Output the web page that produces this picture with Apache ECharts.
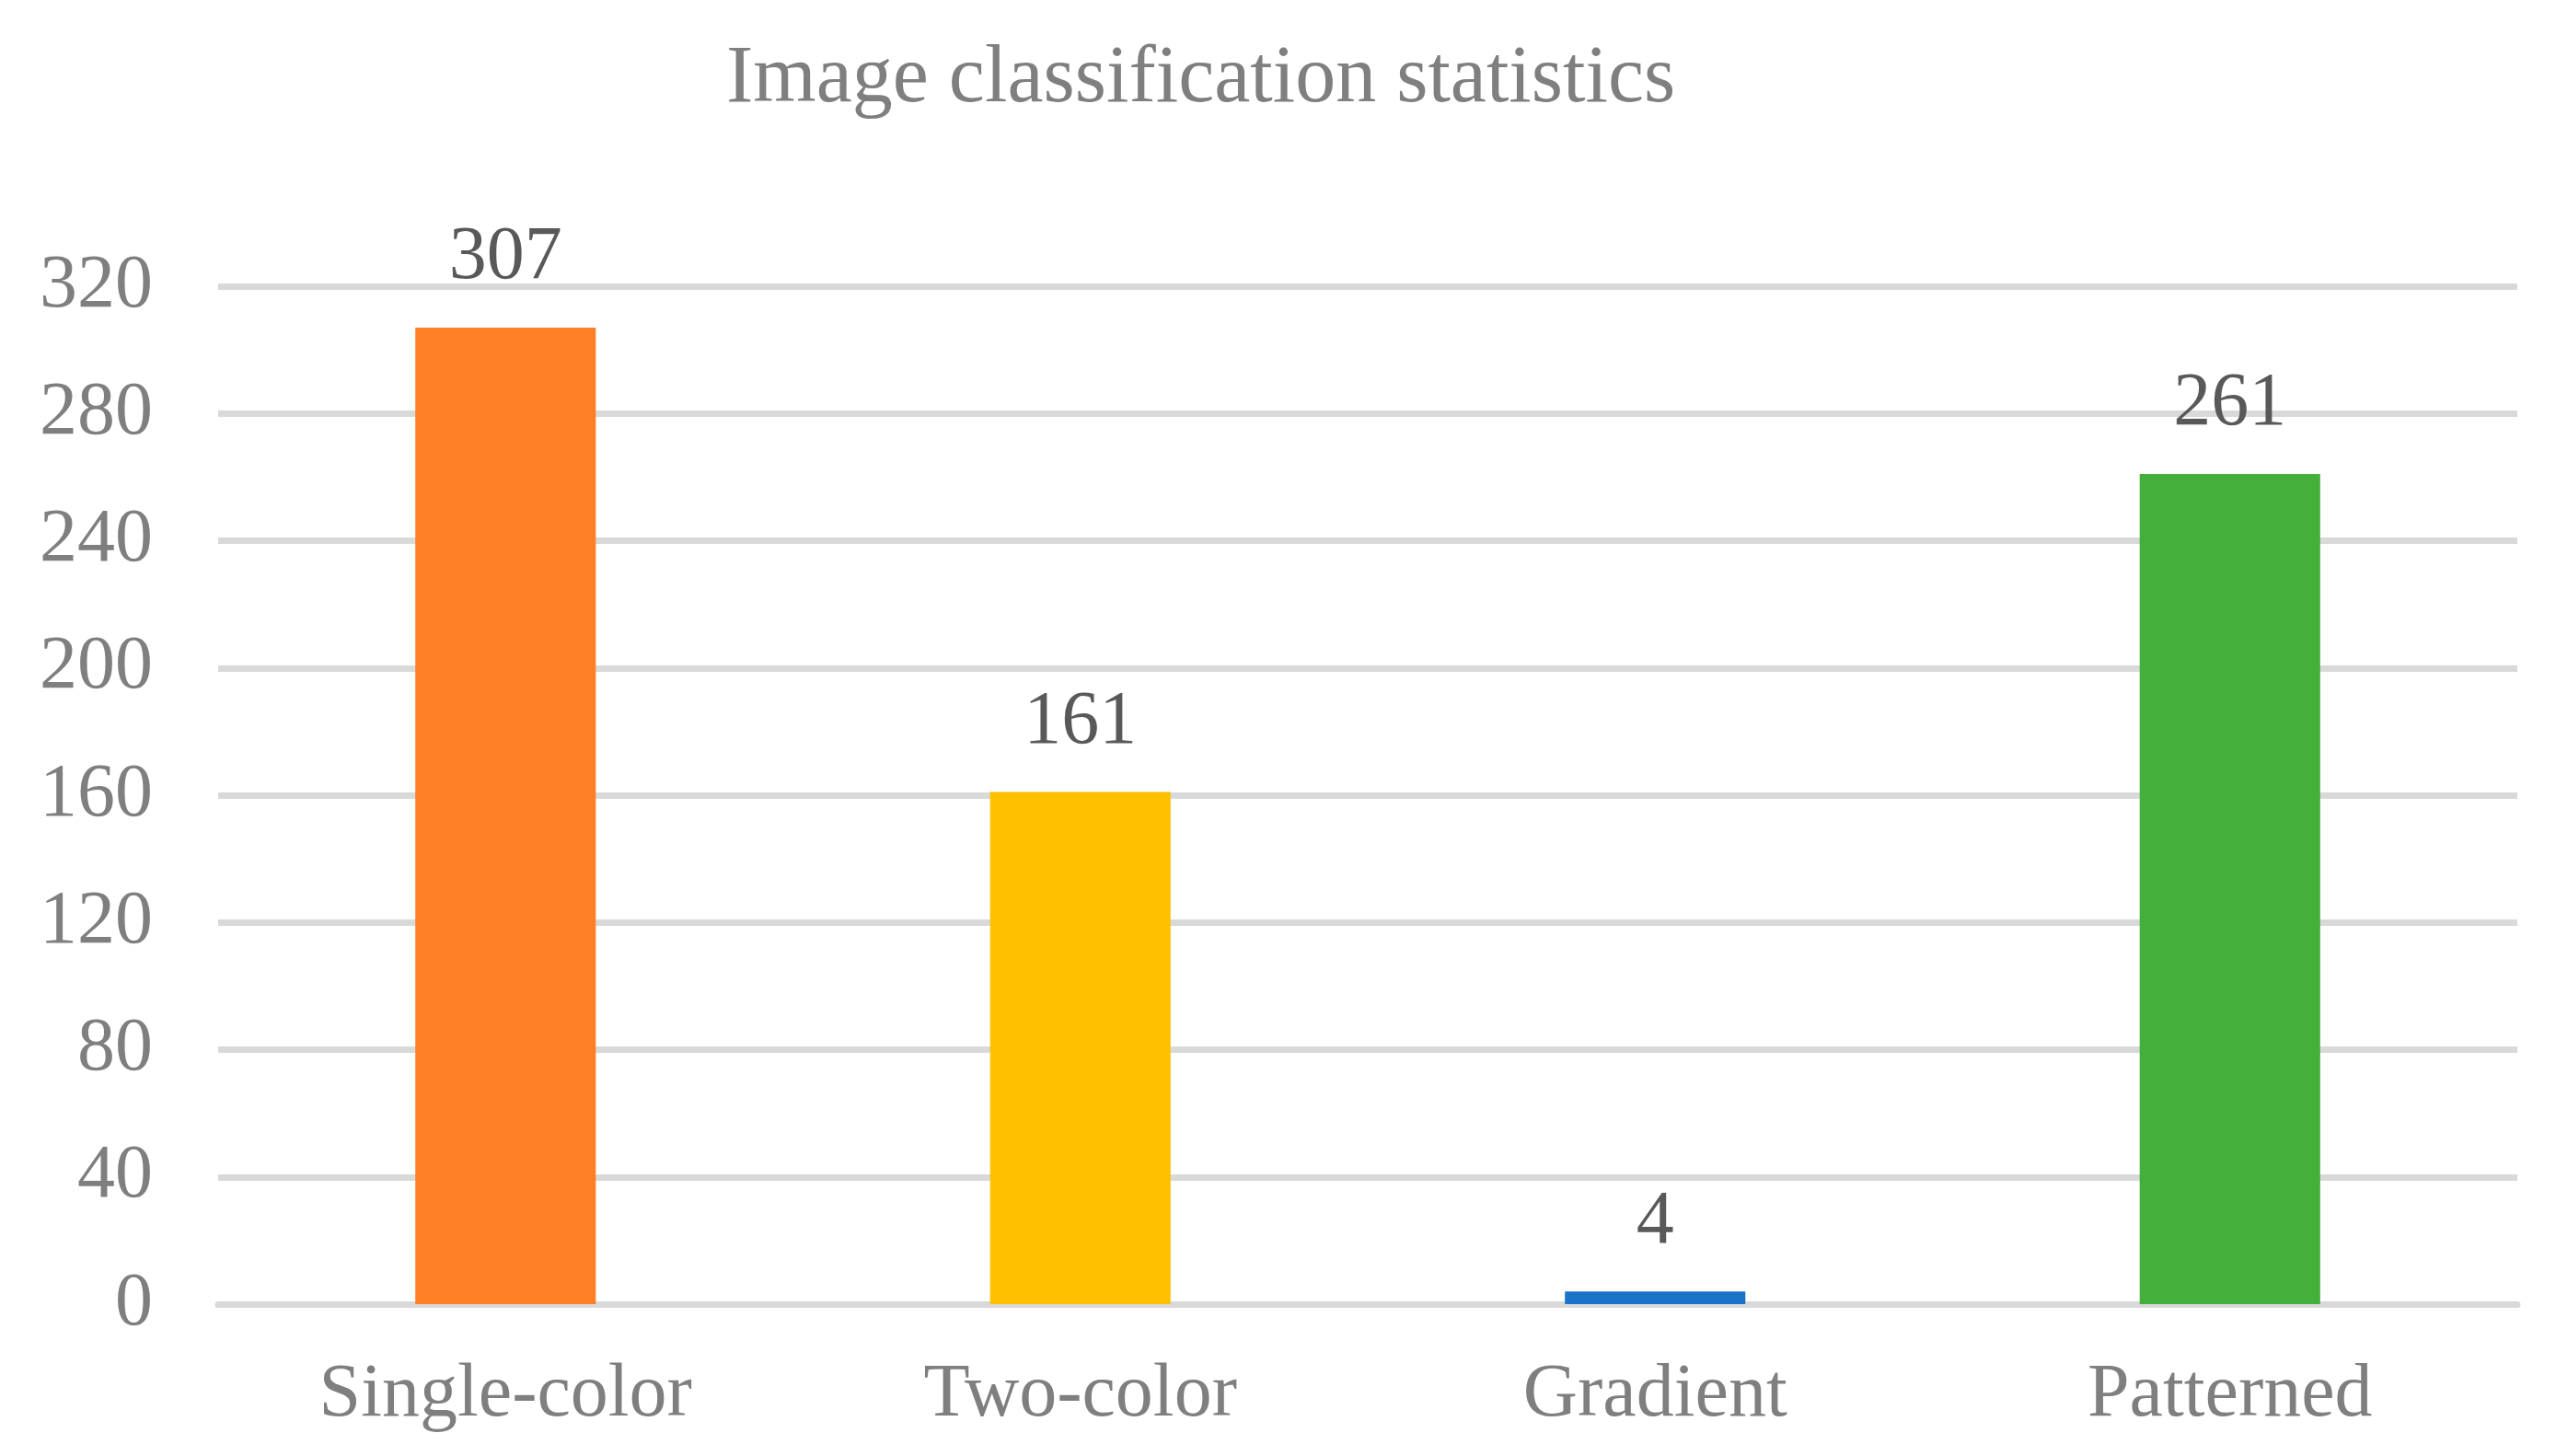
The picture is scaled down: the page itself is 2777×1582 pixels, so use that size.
<!DOCTYPE html>
<html>
<head>
<meta charset="utf-8">
<title>Image classification statistics</title>
<script src="https://cdn.jsdelivr.net/npm/echarts@6/dist/echarts.min.js"></script>
<style>
  html, body { margin: 0; padding: 0; background: #fff; }
  #chart { width: 2777px; height: 1582px; }
</style>
</head>
<body>
<div id="chart"></div>
<script>
// data
var categories = ['Single-color', 'Two-color', 'Gradient', 'Patterned'];
var counts = [307, 161, 4, 261];
var barColors = ['#FF7F27', '#FFC000', '#1A73C8', '#44AF3B'];
var yTicks = { min: 0, max: 320, step: 40 };

var serif = '"Liberation Serif", "Times New Roman", serif';
var chart = echarts.init(document.getElementById('chart'));

var seriesData = counts.map(function (v, i) {
  return { value: v, itemStyle: { color: barColors[i] } };
});

chart.setOption({
  animation: false,
  backgroundColor: '#fff',
  title: {
    text: 'Image classification statistics',
    left: 784,
    top: 38,
    textStyle: { fontFamily: serif, fontSize: 88, fontWeight: 'normal', color: '#7f7f7f' }
  },
  grid: { left: 237, right: 42, top: 311, bottom: 165, containLabel: false },
  xAxis: {
    type: 'category',
    data: categories,
    axisLine: { show: true, lineStyle: { color: '#d9d9d9', width: 7 } },
    axisTick: { show: false },
    axisLabel: { fontFamily: serif, fontSize: 82, color: '#7f7f7f', margin: 58 }
  },
  yAxis: {
    type: 'value',
    min: yTicks.min,
    max: yTicks.max,
    interval: yTicks.step,
    axisLine: { show: false },
    axisTick: { show: false },
    axisLabel: { fontFamily: serif, fontSize: 82, color: '#7f7f7f', margin: 71 },
    splitLine: { lineStyle: { color: '#d9d9d9', width: 7 } }
  },
  series: [{
    type: 'bar',
    data: seriesData,
    barWidth: '31.4%',
    label: {
      show: true,
      position: 'top',
      distance: 34,
      fontFamily: serif,
      fontSize: 82,
      color: '#595959'
    }
  }]
});
</script>
</body>
</html>
